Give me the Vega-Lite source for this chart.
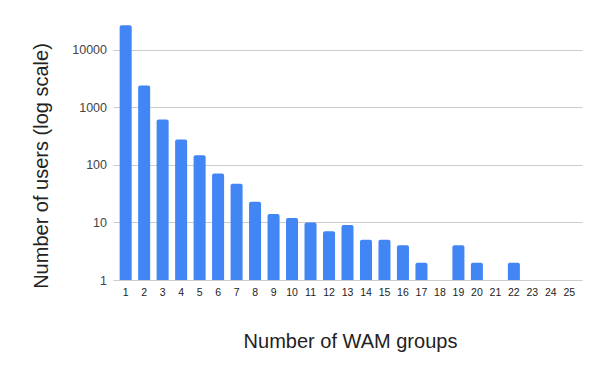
{
  "$schema": "https://vega.github.io/schema/vega-lite/v6.json",
  "autosize": "none",
  "padding": {"left": 113, "top": 21, "right": 18, "bottom": 91},
  "width": 469,
  "height": 259,
  "background": "#ffffff",
  "data": {
    "values": [
      {"groups": "1", "users": 26800},
      {"groups": "2", "users": 2400},
      {"groups": "3", "users": 615},
      {"groups": "4", "users": 275},
      {"groups": "5", "users": 147},
      {"groups": "6", "users": 71},
      {"groups": "7", "users": 47},
      {"groups": "8", "users": 23},
      {"groups": "9", "users": 14},
      {"groups": "10", "users": 12},
      {"groups": "11", "users": 10},
      {"groups": "12", "users": 7},
      {"groups": "13", "users": 9},
      {"groups": "14", "users": 5},
      {"groups": "15", "users": 5},
      {"groups": "16", "users": 4},
      {"groups": "17", "users": 2},
      {"groups": "19", "users": 4},
      {"groups": "20", "users": 2},
      {"groups": "22", "users": 2}
    ]
  },
  "mark": {"type": "bar", "color": "#4285f4", "cornerRadiusTopLeft": 2, "cornerRadiusTopRight": 2},
  "encoding": {
    "x": {
      "field": "groups",
      "type": "ordinal",
      "scale": {"domain": ["1","2","3","4","5","6","7","8","9","10","11","12","13","14","15","16","17","18","19","20","21","22","23","24","25"], "paddingInner": 0.35, "paddingOuter": 0.36},
      "axis": {
        "title": "Number of WAM groups",
        "titleFont": "Liberation Sans",
        "titleFontSize": 20,
        "titleFontWeight": "normal",
        "titleColor": "#222222",
        "titleBaseline": "alphabetic",
        "titleY": 67,
        "titleX": 237,
        "titleAlign": "center",
        "labelAngle": 0,
        "labelFont": "Liberation Sans",
        "labelFontSize": 10.5,
        "labelColor": "#222222",
        "labelBaseline": "alphabetic",
        "labelPadding": 15.5,
        "ticks": false,
        "tickSize": 0,
        "domain": false,
        "grid": false
      }
    },
    "y": {
      "field": "users",
      "type": "quantitative",
      "scale": {"type": "log", "domain": [1, 31623], "nice": false},
      "axis": {
        "title": "Number of users (log scale)",
        "titleFont": "Liberation Sans",
        "titleFontSize": 20,
        "titleFontWeight": "normal",
        "titleColor": "#222222",
        "titleBaseline": "alphabetic",
        "titleAngle": -90,
        "titleX": -66,
        "titleY": 144.5,
        "titleAlign": "center",
        "values": [1, 10, 100, 1000, 10000],
        "format": "d",
        "labelFont": "Liberation Sans",
        "labelFontSize": 12.5,
        "labelColor": "#444444",
        "labelPadding": 6.5,
        "ticks": false,
        "tickSize": 0,
        "domain": false,
        "grid": true,
        "gridColor": "#cccccc",
        "gridWidth": 1
      }
    },
    "y2": {"datum": 1}
  },
  "config": {"view": {"stroke": null}}
}
